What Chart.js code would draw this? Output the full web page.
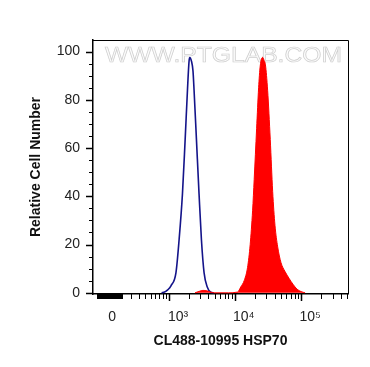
<!DOCTYPE html>
<html>
<head>
<meta charset="utf-8">
<script src="https://cdn.jsdelivr.net/npm/chart.js@4/dist/chart.umd.min.js"></script>
<style>
html,body{margin:0;padding:0;background:#fff;}
#wrap{width:370px;height:367px;}
</style>
</head>
<body>
<div id="wrap"><canvas id="c" width="370" height="367"></canvas></div>
<script>
// ---------------- data ----------------
const xTitle = 'CL488-10995 HSP70';
const yTitle = 'Relative Cell Number';
const watermarkText = 'WWW.PTGLAB.COM';

const xRange = [-200, 510000];              // fluorescence intensity shown on the axis
const yRange = [-0.5, 104.8];

const xTickValues = [0, 1000, 10000, 100000];
const xTickLabels = ['0', '10³', '10⁴', '10⁵'];
const xMajorTicks = [1000, 10000, 100000];
const xMinorTicks = [
  -150,-140,-130,-120,-110,-100,-90,-80,-70,-60,-50,-40,-30,-20,-10,0,10,20,30,40,50,60,70,80,90,
  100,200,300,400,500,600,700,800,900,
  2000,3000,4000,5000,6000,7000,8000,9000,
  20000,30000,40000,50000,60000,70000,80000,90000,
  200000,300000,400000,500000
];
const yTickValues = [0, 20, 40, 60, 80, 100];
const yMinorTicks = [5,10,15,25,30,35,45,50,55,65,70,75,85,90,95];

// isotype control (blue outline)
const controlIntensity = [760, 850, 950, 1070, 1280, 1430, 1610, 1770, 1920, 2030, 2080, 2210, 2330, 2420, 2630, 2880, 3130, 3430, 3850, 4330, 4800];
const controlCount     = [0,   0.3, 1.2, 2.9,  8.4,  22,   41,   63.5, 84,   96,   97.5, 96,   92,   84,   63.5, 41,   22,   8.4,  2.3,  0.2,  0];

// HSP70 stained sample (red filled)
const sampleIntensity = [2500, 2900, 3300, 3800, 4300, 5000, 8000, 10990, 12330, 13830, 15560, 17050, 18540, 19600, 21320, 22860, 24160, 26300, 27500, 28970, 31260, 34270, 37240, 40360, 44360, 49770, 57260, 65790, 75640, 86950, 100000, 115000];
const sampleCount     = [0,    0.6,  1.0,  0.8,  0.3,  0,    0,    0.3,   2.5,   5,     10.5,  20,    34,    47,    68,    85,    94,    97.6,  96.5,  94.5,  84,    63.5,  42,    28,    19,    12.5,  8.8,   6,     3.5,   1.5,   0.5,    0];

// ---------------- logicle-like display transform ----------------
const C = 140.6;
function T(v){ return Math.log10(C) + Math.asinh(v / (2*C)) / Math.LN10; }

const FONT = "'Liberation Sans', Arial, Helvetica, sans-serif";
Chart.defaults.font.family = FONT;

const pts = (xs, ys) => xs.map((v, i) => ({x: T(v), y: ys[i]}));

const tickPlugin = {
  id: 'axisTicks',
  afterDraw(chart){
    const ctx = chart.ctx, xs = chart.scales.x, ys = chart.scales.y, a = chart.chartArea;
    ctx.save();
    ctx.strokeStyle = '#000';
    // frame top & right
    ctx.lineWidth = 1;
    ctx.beginPath();
    ctx.moveTo(a.left, Math.round(a.top) + 0.5);
    ctx.lineTo(Math.round(a.right) + 0.5, Math.round(a.top) + 0.5);
    ctx.lineTo(Math.round(a.right) + 0.5, a.bottom);
    ctx.stroke();
    // x ticks
    const base = Math.round(a.bottom);
    ctx.beginPath();
    xMinorTicks.forEach(v => { const p = Math.round(xs.getPixelForValue(T(v))) + 0.5; ctx.moveTo(p, base); ctx.lineTo(p, base + 5); });
    ctx.stroke();
    ctx.lineWidth = 1.5;
    ctx.beginPath();
    xMajorTicks.forEach(v => { const p = Math.round(xs.getPixelForValue(T(v))) + 0.5; ctx.moveTo(p, base); ctx.lineTo(p, base + 7); });
    ctx.stroke();
    // y ticks
    const left = Math.round(a.left);
    ctx.lineWidth = 1;
    ctx.beginPath();
    yMinorTicks.forEach(v => { const p = Math.round(ys.getPixelForValue(v)) + 0.5; ctx.moveTo(left, p); ctx.lineTo(left - 4, p); });
    ctx.stroke();
    ctx.lineWidth = 1.5;
    ctx.beginPath();
    yTickValues.forEach(v => { const p = Math.round(ys.getPixelForValue(v)) + 0.5; ctx.moveTo(left, p); ctx.lineTo(left - 7, p); });
    ctx.stroke();
    ctx.restore();
  }
};

const watermarkPlugin = {
  id: 'watermark',
  beforeDatasetsDraw(chart){
    const ctx = chart.ctx, a = chart.chartArea;
    ctx.save();
    ctx.font = '22px ' + FONT;
    ctx.textAlign = 'center';
    ctx.textBaseline = 'middle';
    const w = ctx.measureText(watermarkText).width;
    const target = (a.right - a.left) - 18;
    ctx.translate((a.left + a.right) / 2 + 3, a.top + 16);
    ctx.scale(target / w, 1);
    ctx.fillStyle = '#fbfbfb';
    ctx.fillText(watermarkText, 0, 0);
    ctx.lineWidth = 0.7;
    ctx.strokeStyle = '#cfcfcf';
    ctx.strokeText(watermarkText, 0, 0);
    ctx.restore();
  }
};

const labelShiftPlugin = {
  id: 'labelShift',
  beforeDraw(chart){
    const items = chart.scales.x.getLabelItems();
    items.forEach(it => {
      if (it._shifted) return;
      if (String(it.label).startsWith('10')) it.options.translation[0] += 9;
      it._shifted = true;
    });
  }
};

new Chart(document.getElementById('c'), {
  type: 'line',
  data: {
    datasets: [
      {
        label: 'HSP70',
        data: pts(sampleIntensity, sampleCount),
        borderColor: '#ff0000',
        backgroundColor: '#ff0000',
        borderWidth: 1,
        fill: 'origin',
        pointRadius: 0,
        tension: 0.35,
        cubicInterpolationMode: 'monotone'
      },
      {
        label: 'Control',
        data: pts(controlIntensity, controlCount),
        borderColor: '#14148a',
        borderWidth: 1.6,
        fill: false,
        pointRadius: 0,
        cubicInterpolationMode: 'monotone'
      }
    ]
  },
  options: {
    responsive: false,
    animation: false,
    devicePixelRatio: 1,
    layout: { padding: { top: 40, right: 22, left: 0, bottom: 0 } },
    plugins: { legend: { display: false }, tooltip: { enabled: false } },
    scales: {
      x: {
        type: 'linear',
        min: T(xRange[0]),
        max: T(xRange[1]),
        afterBuildTicks: s => { s.ticks = xTickValues.map(v => ({ value: T(v) })); },
        afterFit: s => { s.height = 73; },
        grid: { display: false, drawTicks: false },
        border: { display: true, color: '#000', width: 1.5 },
        ticks: {
          padding: 15,
          autoSkip: false,
          maxRotation: 0,
          color: '#222',
          font: { size: 14 },
          callback: (val, i) => xTickLabels[i]
        },
        title: {
          display: true, text: xTitle, color: '#111',
          font: { size: 14, weight: 'bold' },
          padding: { top: 0, bottom: 17 }
        }
      },
      y: {
        min: yRange[0],
        max: yRange[1],
        afterBuildTicks: s => { s.ticks = yTickValues.map(v => ({ value: v })); },
        afterFit: s => { s.width = 93; },
        grid: { display: false, drawTicks: false },
        border: { display: true, color: '#000', width: 1.5 },
        ticks: { padding: 13, color: '#222', font: { size: 14 } },
        title: {
          display: true, text: yTitle, color: '#111',
          font: { size: 14, weight: 'bold' },
          padding: { top: 28, bottom: 0 }
        }
      }
    }
  },
  plugins: [labelShiftPlugin, watermarkPlugin, tickPlugin]
});
</script>
</body>
</html>
